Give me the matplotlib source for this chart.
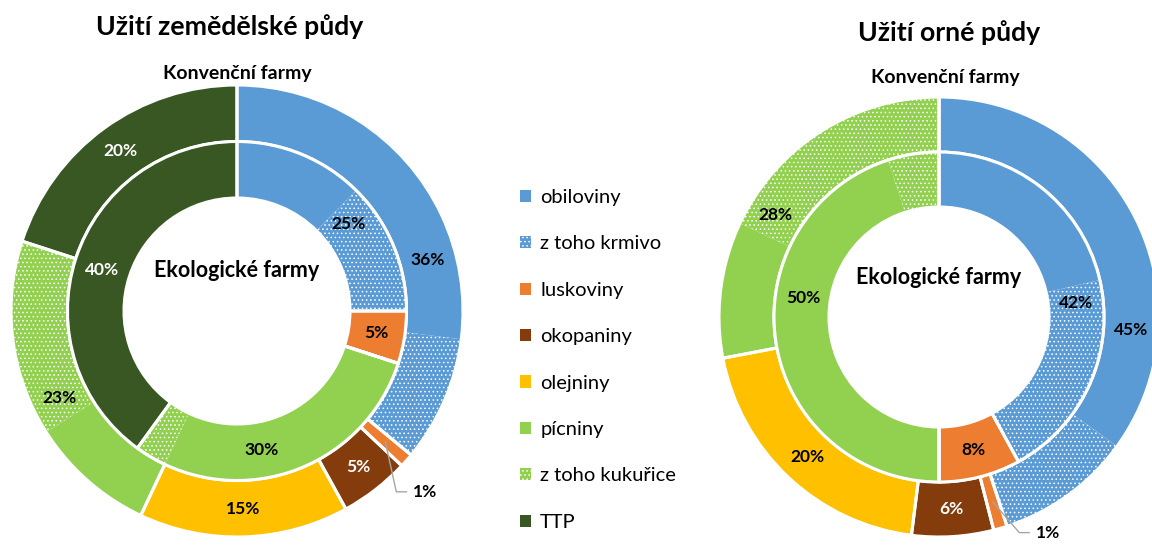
import matplotlib
matplotlib.use("Agg")
import matplotlib.pyplot as plt
from matplotlib.patches import Patch
import numpy as np

plt.rcParams["font.family"] = ["Lato", "DejaVu Sans"]
plt.rcParams["hatch.linewidth"] = 0.6

# kategorie (ve směru hodinových ručiček od 12 h)
categories = ["obiloviny", "luskoviny", "okopaniny", "olejniny", "pícniny", "TTP"]
legend_labels = ["obiloviny", "z toho krmivo", "luskoviny", "okopaniny",
                 "olejniny", "pícniny", "z toho kukuřice", "TTP"]

# Užití zemědělské půdy (%)
zem_konv = [36, 1, 5, 15, 23, 20]
zem_konv_krmivo = 9
zem_konv_kukurice = 14
zem_eko = [25, 5, 0, 0, 30, 40]
zem_eko_krmivo = 12.6
zem_eko_kukurice = 3

# Užití orné půdy (%)
orna_konv = [45, 1, 6, 20, 28, 0]
orna_konv_krmivo = 10
orna_konv_kukurice = 18
orna_eko = [42, 8, 0, 0, 50, 0]
orna_eko_krmivo = 20.6
orna_eko_kukurice = 5

BLUE = "#5B9BD5"
ORANGE = "#ED7D31"
BROWN = "#843C0C"
YELLOW = "#FFC000"
GREEN = "#92D050"
DKGREEN = "#385723"
SUB_COLORS = [BLUE, BLUE, ORANGE, BROWN, YELLOW, GREEN, GREEN, DKGREEN]
SUB_HATCH = [None, "....", None, None, None, None, "....", None]
WHITE_TEXT = {"okopaniny", "TTP"}


def ring(ax, vals, krmivo, kukurice, radius, width=0.25, small_label=None,
         label_angles=None):
    label_angles = label_angles or {}
    parts = [vals[0] - krmivo, krmivo, vals[1], vals[2], vals[3],
             vals[4] - kukurice, kukurice, vals[5]]
    wedges, _ = ax.pie(parts, radius=radius, colors=SUB_COLORS, startangle=90,
                       counterclock=False,
                       wedgeprops=dict(width=width, linewidth=0, edgecolor="white"))
    for w, h in zip(wedges, SUB_HATCH):
        if h:
            w.set_hatch(h)
    # obrysy kategorií
    ax.pie(vals, radius=radius, colors=["none"] * len(vals), startangle=90,
           counterclock=False,
           wedgeprops=dict(width=width, linewidth=2.2, edgecolor="white",
                           facecolor="none"))
    # popisky
    total = sum(vals)
    start = 0.0
    r_mid = radius - width / 2
    for name, v in zip(categories, vals):
        deg = (start + v / 2) / total * 360
        start += v
        if v <= 0:
            continue
        ang = np.deg2rad(label_angles.get(name, deg))
        x, y = r_mid * np.sin(ang), r_mid * np.cos(ang)
        if v < 2 and small_label is not None:
            tx, ty = small_label
            ax.plot([x, tx - 0.075, tx - 0.03], [y, ty, ty],
                    color="#A6A6A6", linewidth=1.0, zorder=5)
            ax.text(tx, ty, f"{v}%", ha="left", va="center",
                    fontsize=12.5, fontweight="bold", color="black")
            continue
        ax.text(x, y, f"{v}%", ha="center", va="center", fontsize=12.5,
                fontweight="bold",
                color="white" if name in WHITE_TEXT else "black")


fig = plt.figure(figsize=(11.52, 5.45), dpi=100)

ax_l = fig.add_axes([11 / 1152, 8 / 545, 452 / 1152, 452 / 545])
ax_r = fig.add_axes([719 / 1152, 8 / 545, 440 / 1152, 440 / 545])

ring(ax_l, zem_konv, zem_konv_krmivo, zem_konv_kukurice, 1.0,
     small_label=(0.78, -0.80), label_angles={"obiloviny": 75, "pícniny": 244})
ring(ax_l, zem_eko, zem_eko_krmivo, zem_eko_kukurice, 0.75,
     label_angles={"obiloviny": 52, "pícniny": 170, "TTP": 287})
ring(ax_r, orna_konv, orna_konv_krmivo, orna_konv_kukurice, 1.0,
     small_label=(0.44, -0.98), label_angles={"obiloviny": 94, "pícniny": 302})
ring(ax_r, orna_eko, orna_eko_krmivo, orna_eko_kukurice, 0.75,
     label_angles={"obiloviny": 84, "pícniny": 278})

for ax in (ax_l, ax_r):
    ax.set_xlim(-1, 1)
    ax.set_ylim(-1, 1)
    ax.set_aspect("auto")
    ax.axis("off")
    ax.text(0, 0.18, "Ekologické farmy", ha="center", va="center",
            fontsize=15.5, fontweight="bold")

fig.text(230 / 1152, 1 - 27 / 545, "Užití zemědělské půdy", ha="center",
         va="center", fontsize=19.2, fontweight="bold")
fig.text(949 / 1152, 1 - 33 / 545, "Užití orné půdy", ha="center",
         va="center", fontsize=19.2, fontweight="bold")
fig.text(237 / 1152, 1 - 73 / 545, "Konvenční farmy", ha="center",
         va="center", fontsize=14, fontweight="bold")
fig.text(945 / 1152, 1 - 78 / 545, "Konvenční farmy", ha="center",
         va="center", fontsize=14, fontweight="bold")

handles = [Patch(facecolor=c, edgecolor="white", hatch=h, linewidth=0)
           for c, h in zip(SUB_COLORS, SUB_HATCH)]
fig.legend(handles, legend_labels, loc="upper left",
           bbox_to_anchor=(510 / 1152, 1 - 179 / 545), frameon=False,
           fontsize=14.5, handlelength=0.55, handleheight=0.55, handletextpad=0.45,
           labelspacing=1.46, borderpad=0)

fig.savefig("out.png", dpi=100, facecolor="white")
